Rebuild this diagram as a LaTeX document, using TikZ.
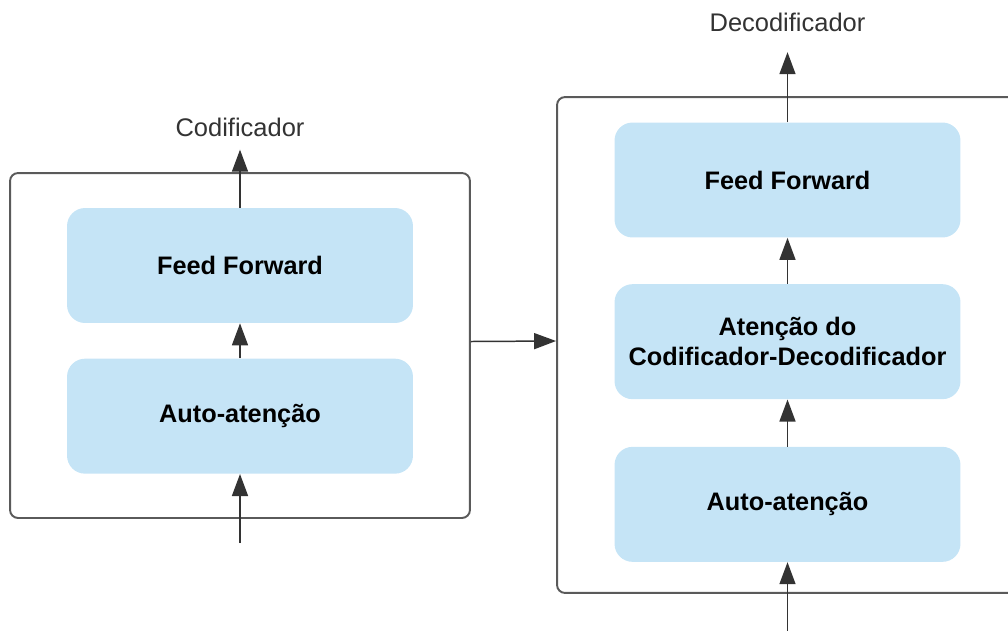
\documentclass[tikz,border=0pt]{standalone}
\usepackage{fontspec}
\setmainfont{Liberation Sans}
\usetikzlibrary{positioning, arrows.meta}
\definecolor{boxblue}{RGB}{197,228,246}
\definecolor{inkgray}{RGB}{51,51,51}
\definecolor{framegray}{RGB}{90,90,90}
\begin{document}
\begin{tikzpicture}[x=0.02cm, y=-0.02cm, node distance=0.7cm]
\tikzset{box/.style={rectangle, rounded corners=0.36cm, fill=boxblue, minimum width=6.92cm, minimum height=2.3cm, text centered, align=center, font=\bfseries\fontsize{14.4}{17}\selectfont, text=black, inner sep=4pt}}
\tikzset{frame/.style={rectangle, draw=framegray, line width=1.1pt, rounded corners=0.16cm, minimum width=9.2cm}}
\tikzset{arrow/.style={-{Triangle[length=0.44cm, width=0.32cm]}, draw=inkgray, fill=inkgray, line width=0.85pt}}
\tikzset{caption/.style={font=\fontsize{14.5}{17}\selectfont, text=inkgray, inner sep=0pt}}

\path[use as bounding box] (0,0) rectangle (1008,630);
\clip (0,0) rectangle (1008,630);

% encoder
\node[frame, minimum height=6.9cm] (enc) at (240,345.5) {};
\node[box] (ffL) at (240,265.5) {Feed Forward};
\node[box, below=0.7cm of ffL] (saL) {Auto-atenção};
\node[caption, above=1.42cm of ffL] (codl) {Codificador};
\coordinate (inL) at (240,543);

% decoder
\node[frame, minimum height=9.92cm] (dec) at (787,345) {};
\node[box] (ffR) at (787.5,180) {Feed Forward};
\node[box, below=0.92cm of ffR] (cross) {Atenção do\\Codificador-Decodificador};
\node[box, below=0.94cm of cross] (saR) {Auto-atenção};
\node[caption, above=1.8cm of ffR] (decl) {Decodificador};
\coordinate (inR) at (787.5,640);

\draw[arrow] (inL) -- (saL);
\draw[arrow] (saL) -- (ffL);
\draw[arrow, shorten >=0.26cm] (ffL) -- (codl);
\draw[arrow] ([yshift=0.08cm]enc.east) -- ([yshift=0.08cm]dec.west);
\draw[arrow] (inR) -- (saR);
\draw[arrow] (saR) -- (cross);
\draw[arrow] (cross) -- (ffR);
\draw[arrow, shorten >=0.4cm] (ffR) -- (decl);
\end{tikzpicture}
\end{document}
